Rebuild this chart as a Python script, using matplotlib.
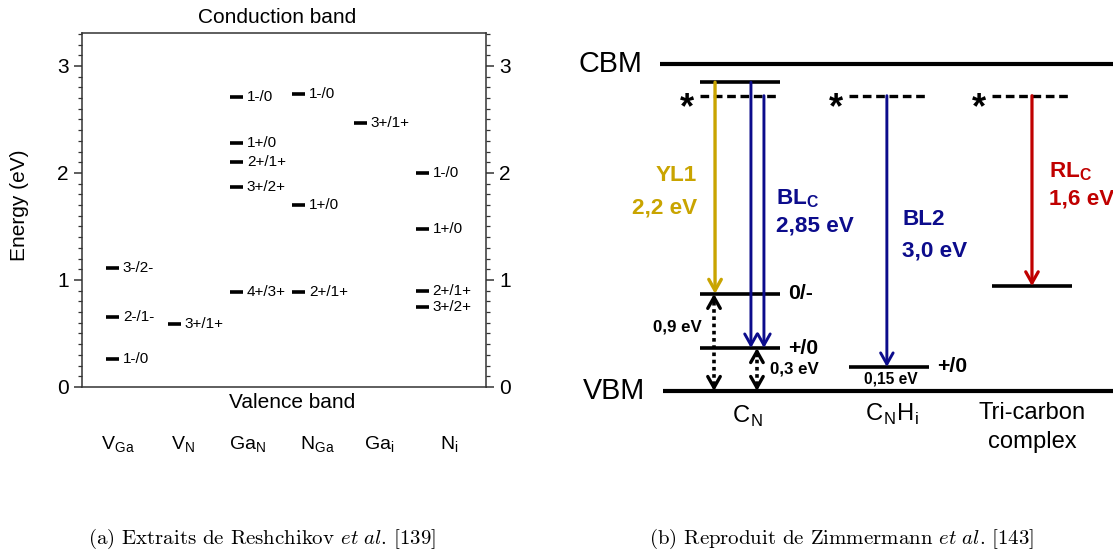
import matplotlib
matplotlib.use('Agg')
import matplotlib.pyplot as plt
import matplotlib.font_manager as fm
from matplotlib.ticker import MultipleLocator

# pick a narrow sans for panel (b) if it is installed
names = {f.name for f in fm.fontManager.ttflist}
narrow = 'Liberation Sans Narrow' if 'Liberation Sans Narrow' in names else 'Liberation Sans'
k = 1.0 if narrow == 'Liberation Sans Narrow' else 0.9

plt.rcParams['font.family'] = ['Liberation Sans', 'DejaVu Sans']
plt.rcParams['mathtext.fontset'] = 'custom'
plt.rcParams['mathtext.rm'] = 'Liberation Sans'
plt.rcParams['mathtext.sf'] = narrow
plt.rcParams['mathtext.bf'] = narrow + ':bold'
plt.rcParams['mathtext.it'] = 'cmmi10'

# ---- panel (a) data : Reshchikov
defects_a = [r'V$_\mathrm{Ga}$', r'V$_\mathrm{N}$', r'Ga$_\mathrm{N}$',
             r'N$_\mathrm{Ga}$', r'Ga$_\mathrm{i}$', r'N$_\mathrm{i}$']
level_defect = [0, 0, 0, 1, 2, 2, 2, 2, 2, 3, 3, 3, 4, 5, 5, 5, 5]
level_energy = [0.26, 0.65, 1.11, 0.59, 2.71, 2.28, 2.10, 1.87, 0.89,
                2.74, 1.70, 0.89, 2.47, 2.00, 1.48, 0.90, 0.75]
level_label = ['1-/0', '2-/1-', '3-/2-', '3+/1+', '1-/0', '1+/0', '2+/1+', '3+/2+', '4+/3+',
               '1-/0', '1+/0', '2+/1+', '3+/1+', '1-/0', '1+/0', '2+/1+', '3+/2+']
label_pos_a = [0.08, 1.13, 2.18, 3.3, 4.3, 5.43]

# ---- panel (b) data : Zimmermann
gap = 3.4
defects_b = [r'$\mathsf{C}_\mathsf{N}$', r'$\mathsf{C}_\mathsf{N}\mathsf{H}_\mathsf{i}$', 'Tri-carbon\ncomplex']
col_x = [0, 1.02, 2.0]
excited = 3.07
cn_top = 3.21
cn_levels = [1.01, 0.447]
cn_names = ['0/-', '+/0']
cnhi_level = 0.25
tri_level = 1.09
gold, navy, red = '#C9A400', '#0C0C8C', '#C00000'

fig = plt.figure(figsize=(11.13, 5.52), dpi=100)

# ================= panel (a)
ax1 = fig.add_axes([82/1113, 1-387/552, 404/1113, 354/552])
ax1.set_xlim(-0.5, 6.02)
ax1.set_ylim(0, 3.308)
for d, e, lab in zip(level_defect, level_energy, level_label):
    ax1.hlines(e, d - 0.11, d + 0.1, color='black', lw=2.6)
    ax1.text(d + 0.16, e, lab, fontsize=11, va='center', ha='left')
ax1.yaxis.set_major_locator(MultipleLocator(1))
ax1.yaxis.set_minor_locator(MultipleLocator(0.1))
ax1.tick_params(axis='y', which='both', left=True, right=True, labelleft=True,
                labelright=True, direction='out', labelsize=15, color='#333333')
ax1.tick_params(axis='y', which='major', length=6, width=1.1)
ax1.tick_params(axis='y', which='minor', length=3, width=0.9)
ax1.set_xticks(label_pos_a)
ax1.set_xticklabels(defects_a, fontsize=14)
ax1.tick_params(axis='x', length=0, pad=34)
for s in ax1.spines.values():
    s.set_linewidth(1.1)
    s.set_color('#333333')
ax1.text(0.483, 1.043, 'Conduction band', transform=ax1.transAxes, ha='center', va='center', fontsize=15)
ax1.text(0.52, -0.045, 'Valence band', transform=ax1.transAxes, ha='center', va='center', fontsize=15)
fig.text(20/1113, 1-205/552, 'Energy (eV)', rotation=90, ha='center', va='center', fontsize=15)

# ================= panel (b)
ax2 = fig.add_axes([560/1113, 1-470/552, 553/1113, 450/552])
ax2.set_xlim(-1.233, 2.555)
ax2.set_ylim(-0.821, 3.857)
ax2.axis('off')

# band edges
ax2.hlines([gap, 0], [-0.548, -0.527], 2.555, color='black', lw=3)
ax2.text(-0.671, gap, 'CBM', ha='right', va='center', fontsize=23*k, family=narrow)
ax2.text(-0.65, 0, 'VBM', ha='right', va='center', fontsize=23*k, family=narrow)

hw = 0.275
# excited (dashed) states with stars
for cx in col_x:
    ax2.hlines(excited, cx - hw, cx + hw, color='black', lw=2.4, linestyles=(0, (2.6, 1.4)))
    ax2.text(cx - 0.36, excited - 0.13, '*', ha='center', va='center', fontsize=29*k,
             family=narrow, weight='bold')

# C_N levels
ax2.hlines(cn_top, col_x[0] - hw, col_x[0] + hw, color='black', lw=2.6)
for e, n in zip(cn_levels, cn_names):
    ax2.hlines(e, col_x[0] - hw, col_x[0] + hw, color='black', lw=2.6)
    ax2.text(col_x[0] + 0.33, e, n, ha='left', va='center', fontsize=17*k, family=narrow, weight='bold')
# C_NH_i level
ax2.hlines(cnhi_level, col_x[1] - hw, col_x[1] + hw, color='black', lw=2.6)
ax2.text(col_x[1] + 0.33, cnhi_level, '+/0', ha='left', va='center', fontsize=17*k, family=narrow, weight='bold')
ax2.text(col_x[1] + 0.01, 0.125, '0,15 eV', ha='center', va='center', fontsize=12.5*k, family=narrow, weight='bold')
# tri-carbon level
ax2.hlines(tri_level, col_x[2] - hw, col_x[2] + hw, color='black', lw=2.6)


def arrow(x, start, end, color, lw=2.2):
    ax2.annotate('', xy=(x, end), xytext=(x, start),
                 arrowprops=dict(arrowstyle='->,head_length=0.8,head_width=0.45', color=color,
                                 lw=lw, shrinkA=0, shrinkB=0, mutation_scale=10))


# optical transitions
arrow(col_x[0] - 0.171, cn_top, cn_levels[0], gold, 2.4)
arrow(col_x[0] + 0.075, cn_top, cn_levels[1], navy, 2.1)
arrow(col_x[0] + 0.164, excited, cn_levels[1], navy, 2.1)
arrow(col_x[1] - 0.014, excited, cnhi_level, navy, 2.1)
arrow(col_x[2], excited, tri_level, red, 2.3)

# dotted double arrows (thermal depth)
for x, top in [(col_x[0] - 0.178, cn_levels[0]), (col_x[0] + 0.116, cn_levels[1])]:
    ax2.plot([x, x], [0.06, top - 0.06], color='black', lw=2.6, ls=(0, (1, 1)))
    arrow(x, top - 0.08, top, 'black', 2.4)
    arrow(x, 0.08, 0, 'black', 2.4)
ax2.text(col_x[0] - 0.26, 0.665, '0,9 eV', ha='right', va='center', fontsize=13.5*k, family=narrow, weight='bold')
ax2.text(col_x[0] + 0.205, 0.229, '0,3 eV', ha='left', va='center', fontsize=13.5*k, family=narrow, weight='bold')

# transition labels
ax2.text(col_x[0] - 0.295, 2.24, 'YL1', ha='right', va='center', fontsize=18*k, family=narrow, weight='bold', color=gold)
ax2.text(col_x[0] - 0.295, 1.907, '2,2 eV', ha='right', va='center', fontsize=18*k, family=narrow, weight='bold', color=gold)
ax2.text(col_x[0] + 0.247, 2.0, r'$\mathbf{BL}_\mathbf{C}$', ha='left', va='center', fontsize=18*k, family=narrow, color=navy)
ax2.text(col_x[0] + 0.247, 1.715, '2,85 eV', ha='left', va='center', fontsize=18*k, family=narrow, weight='bold', color=navy)
ax2.text(col_x[1] + 0.09, 1.788, 'BL2', ha='left', va='center', fontsize=18*k, family=narrow, weight='bold', color=navy)
ax2.text(col_x[1] + 0.09, 1.455, '3,0 eV', ha='left', va='center', fontsize=18*k, family=narrow, weight='bold', color=navy)
ax2.text(col_x[2] + 0.116, 2.28, r'$\mathbf{RL}_\mathbf{C}$', ha='left', va='center', fontsize=18*k, family=narrow, color=red)
ax2.text(col_x[2] + 0.116, 2.0, '1,6 eV', ha='left', va='center', fontsize=18*k, family=narrow, weight='bold', color=red)

# defect names under VBM
ax2.text(col_x[0] + 0.05, -0.13, defects_b[0], ha='center', va='top', fontsize=19*k, family=narrow)
ax2.text(col_x[1] + 0.02, -0.11, defects_b[1], ha='center', va='top', fontsize=19*k, family=narrow)
ax2.text(col_x[2], -0.11, defects_b[2], ha='center', va='top', fontsize=19*k, family=narrow,
         linespacing=1.45)

# captions
fig.text(262/1113, 1-539/552, r'(a) Extraits de Reshchikov $\mathit{et\ al}$. [139]',
         family='cmr10', fontsize=15, ha='center', va='center')
fig.text(842/1113, 1-539/552, r'(b) Reproduit de Zimmermann $\mathit{et\ al}$. [143]',
         family='cmr10', fontsize=15, ha='center', va='center')

fig.savefig('out.png', dpi=100)
